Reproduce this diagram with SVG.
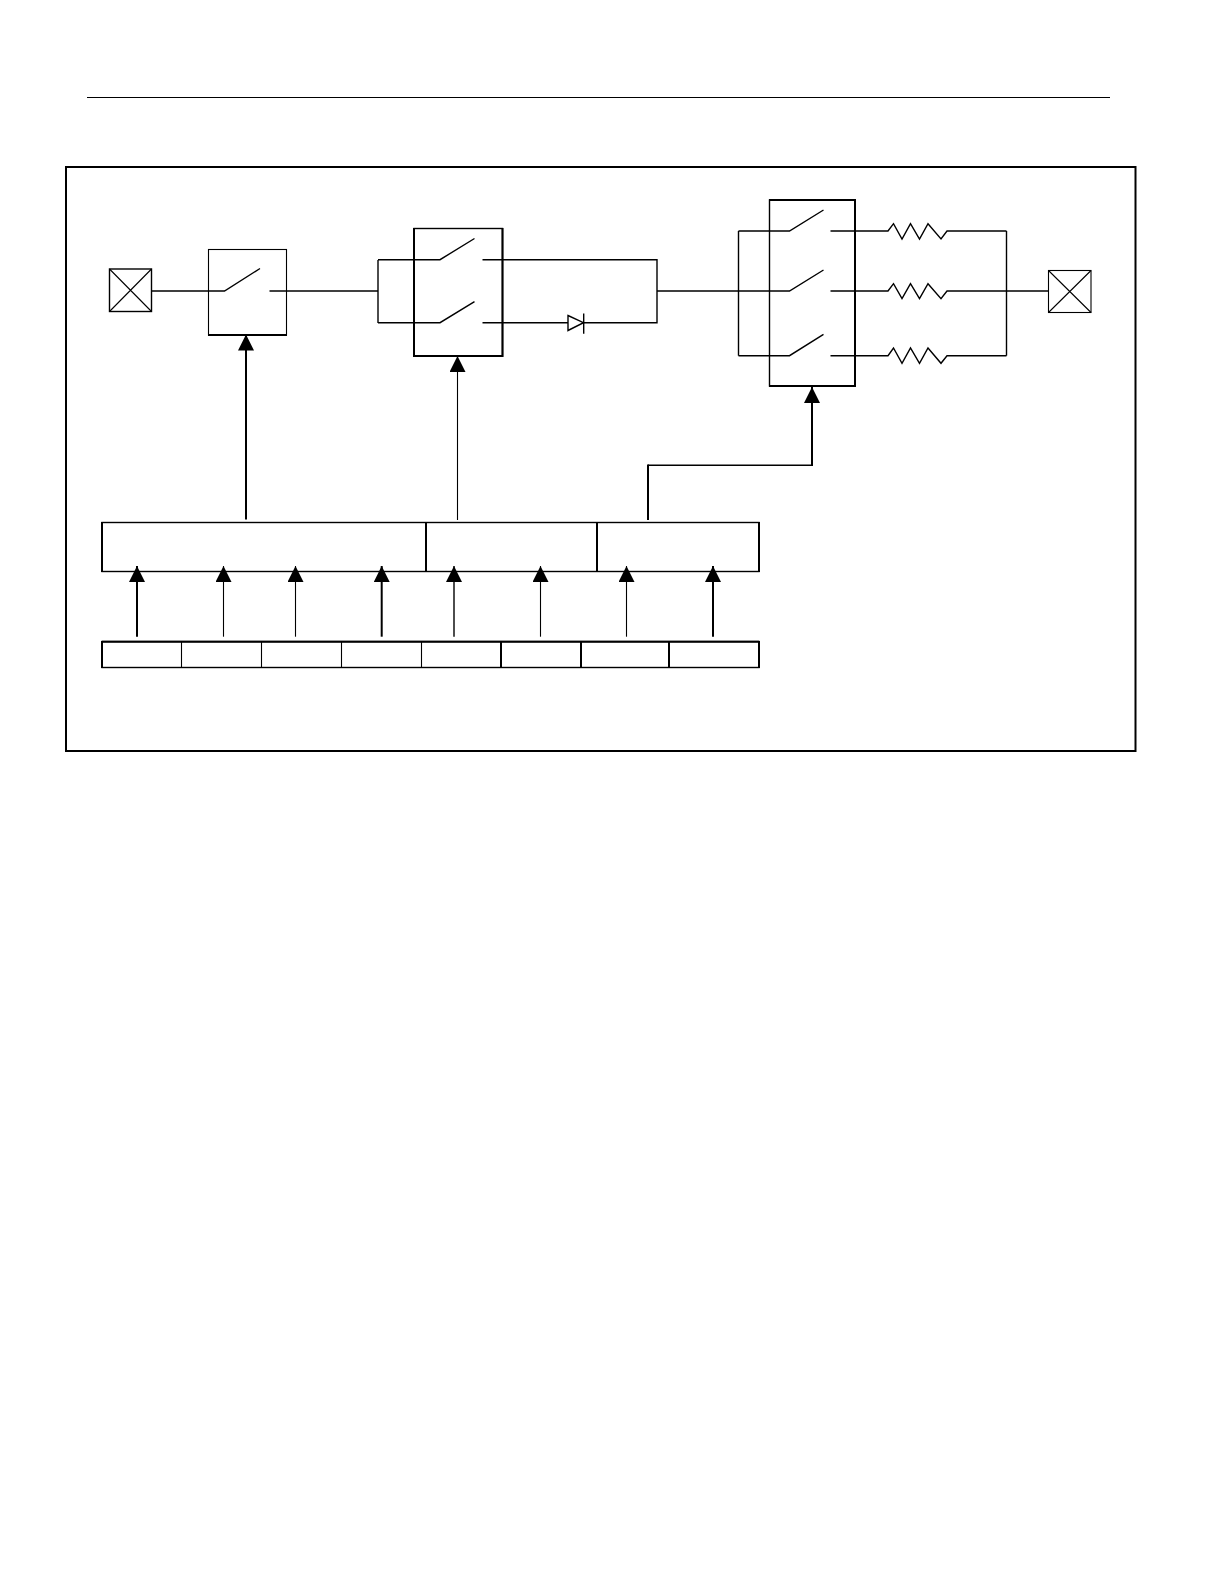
<svg xmlns="http://www.w3.org/2000/svg" width="1225" height="1585" viewBox="0 0 1225 1585">
<style>
.n{fill:none;stroke:#000;stroke-width:1.1}
.m{fill:none;stroke:#000;stroke-width:1.4}
.t{fill:none;stroke:#000;stroke-width:2}
.w{fill:none;stroke:#000;stroke-width:1.4;stroke-linejoin:miter}
</style>
<defs>
<marker id="ah" markerUnits="userSpaceOnUse" viewBox="0 0 16 16" markerWidth="16" markerHeight="16" refX="16" refY="8" orient="auto"><path d="M0 0L16 8L0 16Z" fill="#000"/></marker>
</defs>
<rect width="1225" height="1585" fill="#fff"/>
<g id="rule"><path class="n" d="M87 97.5H1110"/></g>
<g id="frame"><rect x="66" y="167" width="1069.5" height="584" fill="none" stroke="#000" stroke-width="2"/></g>
<g id="node-port-in"><rect class="m" x="109.5" y="269" width="42" height="42.5"/><path class="n" d="M109.5 269L151.5 311.5M151.5 269L109.5 311.5"/></g>
<g id="node-switch-1"><rect class="n" x="208.5" y="249.5" width="78" height="85.5"/><path class="t" d="M208 335H287"/></g>
<g id="node-switch-2"><rect class="m" x="414" y="228.5" width="88.5" height="127.5"/><path class="t" d="M414 228V357M502.5 228V357M414 356H503"/></g>
<g id="node-switch-3"><rect class="m" x="769.5" y="200" width="85.5" height="186"/><path class="t" d="M855 199V387M769 200H856M769 386H856"/></g>
<g id="node-port-out"><rect class="n" x="1048.5" y="270.5" width="42.5" height="42"/><path class="n" d="M1048.5 270.5L1091 312.5M1091 270.5L1048.5 312.5"/></g>
<g id="node-decoder">
<rect class="m" x="102" y="522.5" width="657" height="49"/>
<path class="t" d="M102 522V572M426 522V572M597 522V572M759 522V572"/>
</g>
<g id="node-register">
<rect class="m" x="102" y="641.5" width="657" height="26"/>
<path class="t" d="M102 641V668M501 641V668M581 641V668M669 641V668M759 641V668M102 641.7H759"/>
<path class="n" d="M181.5 641V668M261.5 641V668M341.5 641V668M421.5 641V668"/>
</g>
<g id="connectors">
<path class="m" d="M151.5 291H224.5L260 268.5"/>
<path class="m" d="M269.5 291H378"/>
<path class="m" d="M378 260V323"/>
<path class="m" d="M378 259.7H440L474.5 238.5"/>
<path class="m" d="M378 322.7H440L474.5 301.7"/>
<path class="m" d="M482.5 259.7H657V322.7H584"/>
<path class="m" d="M482.5 322.7H568"/>
<path class="m" d="M568 315.5L583.5 322.7L568 330.5Z"/>
<path class="m" d="M583.7 313.5V333.7"/>
<path class="m" d="M657 291H789.5L823.5 270"/>
<path class="m" d="M738.5 231V355.7"/>
<path class="m" d="M738.5 231H789.5L823.5 210"/>
<path class="m" d="M738.5 355.7H789.5L823.5 334.3"/>
<path class="w" d="M830.5 231H888L893.5 223.7L902 239L910.5 223.7L919.5 239L928 223.7L941 239L947 231H1006.5"/>
<path class="w" d="M830.5 291H888L893.5 283.7L902 298.7L910.5 283.7L919.5 298.7L928 283.7L941 298.7L947 291H1048.5"/>
<path class="w" d="M830.5 355.7H888L893.5 348L902 363.3L910.5 348L919.5 363.3L928 348L941 363.3L947 355.7H1006.5"/>
<path class="m" d="M1006.5 231V355.7"/>
<path class="t" d="M246 519.5V334.5" marker-end="url(#ah)"/>
<path class="n" d="M457.5 520V356" marker-end="url(#ah)"/>
<path class="m" d="M648 465.3H812"/>
<path class="t" d="M648 520V464.6"/>
<path class="t" d="M812 466V387" marker-end="url(#ah)"/>
<path class="t" d="M137 636.7V566" marker-end="url(#ah)"/>
<path class="n" d="M223.5 636.7V566" marker-end="url(#ah)"/>
<path class="n" d="M295.5 636.7V566" marker-end="url(#ah)"/>
<path class="t" d="M381.7 636.7V566" marker-end="url(#ah)"/>
<path class="m" d="M454 636.7V566" marker-end="url(#ah)"/>
<path class="n" d="M540.5 636.7V566" marker-end="url(#ah)"/>
<path class="n" d="M626.5 636.7V566" marker-end="url(#ah)"/>
<path class="t" d="M713 636.7V566" marker-end="url(#ah)"/>
</g>
</svg>
